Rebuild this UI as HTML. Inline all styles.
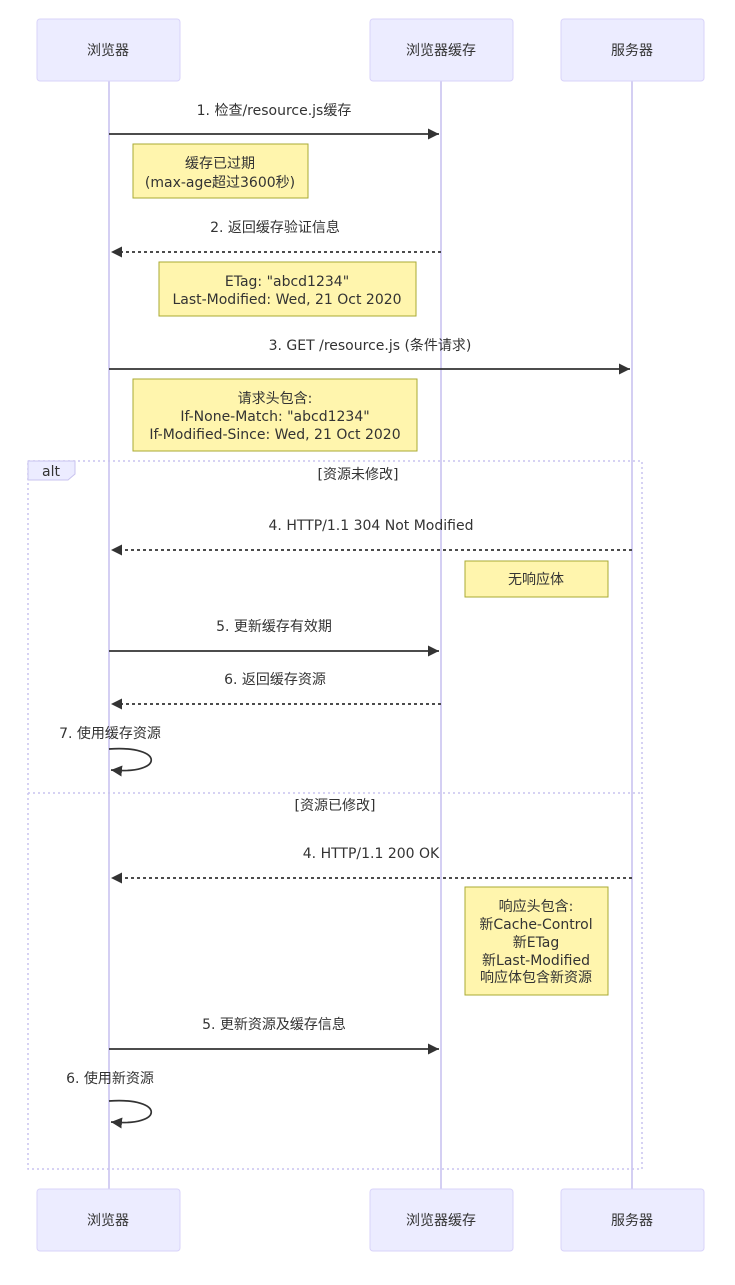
<!DOCTYPE html>
<html><head><meta charset="utf-8"><style>
html,body{margin:0;padding:0;background:#fff;}
svg text{font-family:"DejaVu Sans","Noto Sans CJK SC",sans-serif;font-size:14px;fill:#333;}
</style></head><body>
<svg width="735" height="1280" viewBox="0 0 735 1280" xmlns="http://www.w3.org/2000/svg">
<defs>
<marker id="a" markerWidth="14" markerHeight="14" refX="11" refY="5.5" orient="auto" markerUnits="userSpaceOnUse">
<path d="M0,0 L11,5.5 L0,11 z" fill="#333"/></marker>
</defs>
<g stroke="#d4cff3" stroke-width="2">
<line x1="109" y1="81" x2="109" y2="1189"/>
<line x1="441" y1="81" x2="441" y2="1189"/>
<line x1="632" y1="81" x2="632" y2="1189"/>
</g>
<g fill="#ececff" stroke="#d9d3fa" stroke-width="1">
<rect x="37" y="19" width="143" height="62" rx="3"/>
<rect x="370" y="19" width="143" height="62" rx="3"/>
<rect x="561" y="19" width="143" height="62" rx="3"/>
<rect x="37" y="1189" width="143" height="62" rx="3"/>
<rect x="370" y="1189" width="143" height="62" rx="3"/>
<rect x="561" y="1189" width="143" height="62" rx="3"/>
</g>
<g text-anchor="middle" font-size="15">
<text x="108" y="55">浏览器</text><text x="441" y="55">浏览器缓存</text><text x="632" y="55">服务器</text>
<text x="108" y="1225">浏览器</text><text x="441" y="1225">浏览器缓存</text><text x="632" y="1225">服务器</text>
</g>
<g fill="none" stroke="#c9c3ef" stroke-width="1.5" stroke-dasharray="2,3">
<rect x="28" y="461" width="614" height="708"/>
<line x1="28" y1="793" x2="642" y2="793"/>
</g>
<path d="M28,461 L75,461 L75,474 L68,480 L28,480 z" fill="#ececff" stroke="#c9c3ef"/>
<text x="51" y="476" text-anchor="middle">alt</text>
<text x="358" y="479" text-anchor="middle">[资源未修改]</text>
<text x="335" y="810" text-anchor="middle">[资源已修改]</text>
<g fill="#fff5ad" stroke="#aaaa33" stroke-width="1">
<rect x="133" y="144" width="175" height="54"/>
<rect x="159" y="262" width="257" height="54"/>
<rect x="133" y="379" width="284" height="72"/>
<rect x="465" y="561" width="143" height="36"/>
<rect x="465" y="887" width="143" height="108"/>
</g>
<g text-anchor="middle">
<text x="220" y="168">缓存已过期</text><text x="220" y="187">(max-age超过3600秒)</text>
<text x="287" y="286">ETag: "abcd1234"</text><text x="287" y="304">Last-Modified: Wed, 21 Oct 2020</text>
<text x="275" y="403">请求头包含:</text><text x="275" y="421">If-None-Match: "abcd1234"</text><text x="275" y="439">If-Modified-Since: Wed, 21 Oct 2020</text>
<text x="536" y="584">无响应体</text>
<text x="536" y="911">响应头包含:</text><text x="536" y="929">新Cache-Control</text><text x="536" y="947">新ETag</text><text x="536" y="965">新Last-Modified</text><text x="536" y="982">响应体包含新资源</text>
</g>
<g text-anchor="middle">
<text x="274" y="115">1. 检查/resource.js缓存</text>
<text x="275" y="232">2. 返回缓存验证信息</text>
<text x="370" y="350">3. GET /resource.js (条件请求)</text>
<text x="371" y="530">4. HTTP/1.1 304 Not Modified</text>
<text x="274" y="631">5. 更新缓存有效期</text>
<text x="275" y="684">6. 返回缓存资源</text>
<text x="110" y="738">7. 使用缓存资源</text>
<text x="371" y="858">4. HTTP/1.1 200 OK</text>
<text x="274" y="1029">5. 更新资源及缓存信息</text>
<text x="110" y="1083">6. 使用新资源</text>
</g>
<g stroke="#333" stroke-width="1.7" fill="none">
<line x1="109" y1="134" x2="439" y2="134" marker-end="url(#a)"/>
<line x1="441" y1="252" x2="111" y2="252" stroke-dasharray="3,3" marker-end="url(#a)"/>
<line x1="109" y1="369" x2="630" y2="369" marker-end="url(#a)"/>
<line x1="632" y1="550" x2="111" y2="550" stroke-dasharray="3,3" marker-end="url(#a)"/>
<line x1="109" y1="651" x2="439" y2="651" marker-end="url(#a)"/>
<line x1="441" y1="704" x2="111" y2="704" stroke-dasharray="3,3" marker-end="url(#a)"/>
<path d="M109,749 C165,745 165,775 111,770" marker-end="url(#a)"/>
<line x1="632" y1="878" x2="111" y2="878" stroke-dasharray="3,3" marker-end="url(#a)"/>
<line x1="109" y1="1049" x2="439" y2="1049" marker-end="url(#a)"/>
<path d="M109,1101 C165,1097 165,1127 111,1122" marker-end="url(#a)"/>
</g>
</svg>
</body></html>
